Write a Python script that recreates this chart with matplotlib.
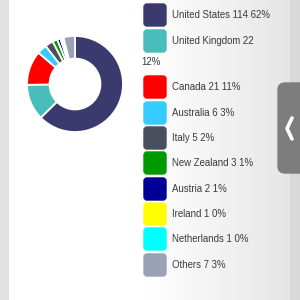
import matplotlib
matplotlib.use("Agg")
import matplotlib.pyplot as plt
import numpy as np
from matplotlib.patches import FancyBboxPatch, Rectangle

countries = ["United States", "United Kingdom", "Canada", "Australia", "Italy",
             "New Zealand", "Austria", "Ireland", "Netherlands", "Others"]
counts = [114, 22, 21, 6, 5, 3, 2, 1, 1, 7]
colors = ["#3b3a6e", "#48bdbb", "#ff0000", "#33ccff", "#4a4e5d",
          "#009900", "#000099", "#ffff00", "#00ffff", "#98a2b4"]

total = sum(counts)
percents = [int(100 * c / total) for c in counts]

plt.rcParams["font.family"] = ["Liberation Sans", "DejaVu Sans"]

fig = plt.figure(figsize=(3, 3), dpi=100)

# background in pixel coordinates
bg = fig.add_axes([0, 0, 1, 1])
bg.set_xlim(0, 300)
bg.set_ylim(300, 0)
bg.axis("off")
bg.add_patch(Rectangle((0, 0), 9, 300, color="#e2e2e2", zorder=0))
bg.add_patch(Rectangle((290, 0), 10, 300, color="#d9d9d9", zorder=0))
grad = np.linspace(0, 1, 200)
grad = np.clip((grad - 0.5) / 0.5, 0, 1)
shade = 1 - 0.1 * grad
img = np.dstack([shade, shade, shade])[0][None, :, :]
bg.imshow(img, extent=(9, 290, 300, 0), aspect="auto", zorder=1)

# side tab with chevron
bg.add_patch(FancyBboxPatch((278, 83), 30, 90, boxstyle="round,pad=0,rounding_size=7",
                            color="#7d7d7d", zorder=3))
bg.plot([292, 287, 292], [118, 128.5, 139], color="white", lw=2.6,
        solid_capstyle="round", solid_joinstyle="round", zorder=4)

# legend
row_y = [15, 41, 87, 113, 138, 163, 189, 214, 239, 265]
txt = dict(fontsize=6.9, color="#3a3a3a", va="center", zorder=4)
for name, c, p, col, y in zip(countries, counts, percents, colors, row_y):
    bg.add_patch(FancyBboxPatch((144, y - 11), 22, 22,
                                boxstyle="round,pad=0,rounding_size=3",
                                color=col, zorder=3))
    label = f"{name} {c}"
    if name == "United Kingdom":
        bg.text(172, y, label, **txt)
        bg.text(141, 62, f"{p}%", **txt)
    else:
        bg.text(172, y, f"{label} {p}%", **txt)

# donut
ax = fig.add_axes([27 / 300, (300 - 84 - 48) / 300, 96 / 300, 96 / 300])
ax.pie(counts, colors=colors, startangle=90, counterclock=False,
       wedgeprops=dict(width=0.47, edgecolor="white", linewidth=1.3))
ax.set_xlim(-1, 1)
ax.set_ylim(-1, 1)
ax.set_aspect("equal")
ax.axis("off")

fig.savefig("out.png", dpi=100)
